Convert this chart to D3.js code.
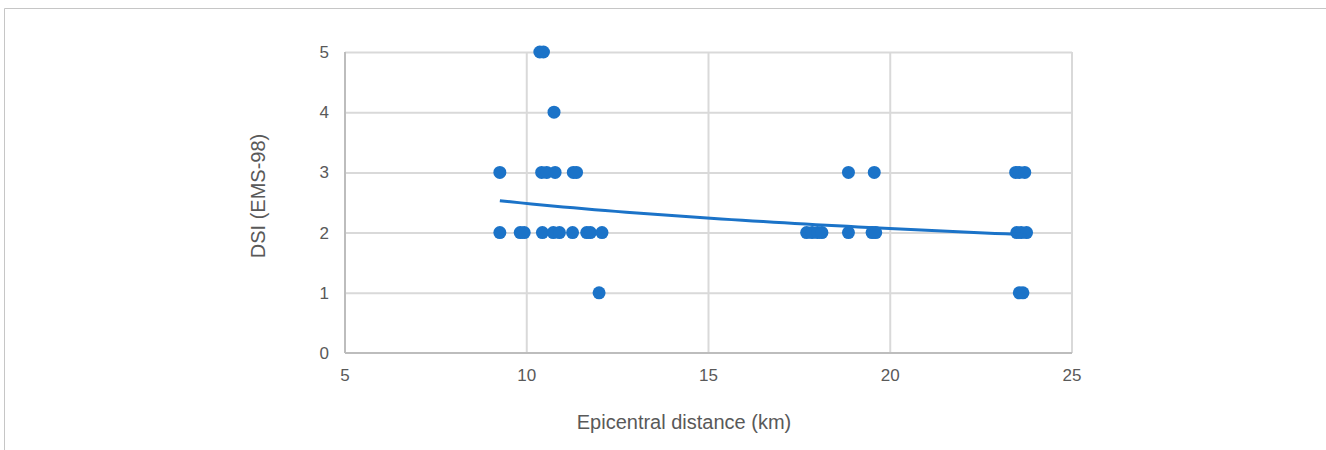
<!DOCTYPE html>
<html>
<head>
<meta charset="utf-8">
<script src="https://cdn.jsdelivr.net/npm/d3@7"></script>
<style>
  body { margin: 0; background: #fff; }
  svg text { font-family: "Liberation Sans", Arial, sans-serif; fill: #595959; }
</style>
</head>
<body>
<svg id="chart" width="1326" height="450"></svg>
<script>
// epicentral distance (km) and DSI values
const distance = [9.26, 9.26, 9.82, 9.93, 10.36, 10.46, 10.75, 10.41, 10.55, 10.78, 11.28, 11.37,
  10.43, 10.73, 10.9, 11.26, 11.65, 11.75, 12.07, 11.99,
  18.85, 19.56, 17.7, 17.85, 18.0, 18.12, 18.85, 19.5, 19.6,
  23.45, 23.55, 23.7, 23.48, 23.6, 23.75, 23.55, 23.65];
const dsi = [3, 2, 2, 2, 5, 5, 4, 3, 3, 3, 3, 3,
  2, 2, 2, 2, 2, 2, 2, 1,
  3, 3, 2, 2, 2, 2, 2, 2, 2,
  3, 3, 3, 2, 2, 2, 1, 1];
const xTicks = [5, 10, 15, 20, 25];
const yTicks = [0, 1, 2, 3, 4, 5];
// logarithmic trendline y = a + b*ln(x), coefficients
const trendA = 3.868;
const trendB = -0.601;

const svg = d3.select('#chart');

// outer frame (only top and left edges visible)
svg.append('path')
  .attr('d', 'M4.5,450 V8.5 H1326')
  .attr('fill', 'none')
  .attr('stroke', '#c6c6c6')
  .attr('stroke-width', 1);

const x = d3.scaleLinear().domain([5, 25]).range([345, 1072]);
const y = d3.scaleLinear().domain([0, 5]).range([353, 52]);

// gridlines
svg.append('g').selectAll('line').data(yTicks.filter(d => d > 0)).join('line')
  .attr('x1', x(5)).attr('x2', x(25))
  .attr('y1', d => y(d) + 0.5).attr('y2', d => y(d) + 0.5)
  .attr('stroke', '#d9d9d9').attr('stroke-width', 2);
svg.append('g').selectAll('line').data(xTicks.filter(d => d > 5)).join('line')
  .attr('x1', d => x(d)).attr('x2', d => x(d))
  .attr('y1', y(0)).attr('y2', y(5))
  .attr('stroke', '#d9d9d9').attr('stroke-width', 2);

// axis lines
svg.append('line').attr('x1', x(5)).attr('x2', x(5)).attr('y1', y(0)).attr('y2', y(5))
  .attr('stroke', '#bdbdbd').attr('stroke-width', 2);
svg.append('line').attr('x1', x(5)).attr('x2', x(25)).attr('y1', y(0)).attr('y2', y(0))
  .attr('stroke', '#bdbdbd').attr('stroke-width', 2);

// tick labels
svg.append('g').selectAll('text').data(yTicks).join('text')
  .attr('x', 329).attr('y', d => y(d) + 6)
  .attr('text-anchor', 'end').attr('font-size', 17)
  .text(d => d);
svg.append('g').selectAll('text').data(xTicks).join('text')
  .attr('x', d => x(d)).attr('y', 381)
  .attr('text-anchor', 'middle').attr('font-size', 17)
  .text(d => d);

// axis titles
svg.append('text').attr('x', 684).attr('y', 429)
  .attr('text-anchor', 'middle').attr('font-size', 20)
  .text('Epicentral distance (km)');
svg.append('text').attr('transform', 'translate(265,196) rotate(-90)')
  .attr('text-anchor', 'middle').attr('font-size', 20)
  .text('DSI (EMS-98)');

// points
const pts = distance.map((d, i) => ({ x: d, y: dsi[i] }));
svg.append('g').selectAll('circle').data(pts).join('circle')
  .attr('cx', d => x(d.x)).attr('cy', d => y(d.y)).attr('r', 6.5)
  .attr('fill', '#1b73c8');

// trendline over the span of the data
const x0 = d3.min(distance), x1 = d3.max(distance);
const trend = d3.range(0, 51).map(i => {
  const xv = x0 + (x1 - x0) * i / 50;
  return { x: xv, y: trendA + trendB * Math.log(xv) };
});
svg.append('path').datum(trend)
  .attr('d', d3.line().x(d => x(d.x)).y(d => y(d.y)))
  .attr('fill', 'none').attr('stroke', '#1b73c8').attr('stroke-width', 3);
</script>
</body>
</html>
